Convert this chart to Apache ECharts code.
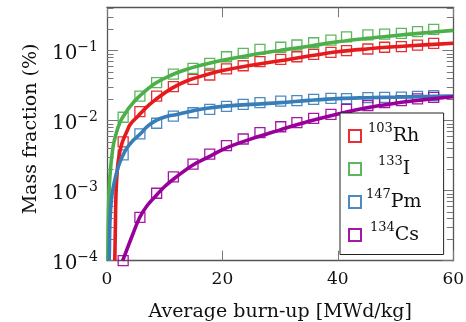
<!DOCTYPE html>
<html>
<head>
<meta charset="utf-8">
<script src="https://cdn.jsdelivr.net/npm/echarts@6/dist/echarts.min.js"></script>
<style>html,body{margin:0;padding:0;background:#fff}#c{width:466px;height:322px}</style>
</head>
<body>
<div id="c"></div>
<script>
// ---- data ----
const markerX = [2.8, 5.7, 8.6, 11.5, 14.9, 17.8, 20.7, 23.6, 26.5, 30.1, 32.9, 35.8, 38.8, 41.5, 45.2, 48.1, 51.0, 53.8, 56.6];
const rhMarkers = [0.0050, 0.0135, 0.0225, 0.0306, 0.039, 0.045, 0.055, 0.061, 0.0697, 0.0754, 0.082, 0.0889, 0.0949, 0.100, 0.1057, 0.112, 0.114, 0.120, 0.1276];
const iMarkers  = [0.0112, 0.0225, 0.0349, 0.0464, 0.0561, 0.066, 0.082, 0.0918, 0.1047, 0.112, 0.1206, 0.130, 0.142, 0.158, 0.168, 0.173, 0.177, 0.187, 0.202];
const pmMarkers = [0.00324, 0.0065, 0.0092, 0.0116, 0.013, 0.01455, 0.016, 0.01716, 0.0181, 0.0191, 0.0193, 0.0202, 0.0209, 0.0207, 0.0213, 0.0215, 0.0217, 0.0223, 0.0228];
const csMarkers = [0.0001, 0.000417, 0.00092, 0.00158, 0.0024, 0.00334, 0.0044, 0.00548, 0.00674, 0.0082, 0.00936, 0.0108, 0.01234, 0.0145, 0.0165, 0.0182, 0.0193, 0.0205, 0.0215];

const rhLineX = [1.35, 1.45, 1.56, 1.75, 1.96, 2.4, 2.8, 3.5, 4.0, 5.4, 7, 8.3, 11.2, 14.1, 17, 20, 25, 30, 35, 40, 45, 50, 55, 60];
const rhLine  = [0.0001, 0.0003, 0.0009, 0.0018, 0.0027, 0.0042, 0.0053, 0.0072, 0.0088, 0.0117, 0.016, 0.0197, 0.029, 0.0378, 0.0448, 0.052, 0.062, 0.072, 0.084, 0.0965, 0.106, 0.114, 0.121, 0.128];
const iLineX  = [0.15, 0.25, 0.5, 1.0, 1.5, 2.25, 3.1, 4, 5.4, 8.3, 11.2, 14.1, 17, 20, 25, 30, 35, 40, 45, 50, 55, 60];
const iLine   = [0.0001, 0.0005, 0.0016, 0.0040, 0.0062, 0.0095, 0.0125, 0.016, 0.0215, 0.034, 0.045, 0.055, 0.064, 0.073, 0.087, 0.101, 0.116, 0.134, 0.150, 0.165, 0.180, 0.195];
const pmLineX = [0.35, 0.4, 0.52, 0.8, 1.1, 1.5, 1.96, 2.6, 3.4, 4.5, 5.7, 7, 8.6, 10, 12.1, 14.1, 17, 20, 25, 30, 35, 40, 45, 50, 55, 60];
const pmLine  = [0.0001, 0.000115, 0.00038, 0.0008, 0.00114, 0.0016, 0.0022, 0.003, 0.004, 0.0052, 0.0064, 0.0083, 0.0102, 0.0113, 0.0123, 0.0134, 0.0149, 0.016, 0.0171, 0.0181, 0.0195, 0.0207, 0.0213, 0.0217, 0.0221, 0.0225];
const csLineX = [2.7, 3.0, 4.3, 5.7, 7, 8.6, 10, 11.5, 14.9, 17.8, 20.4, 25, 30, 35, 40, 45, 50, 55, 60];
const csLine  = [0.0001, 0.000115, 0.00022, 0.00042, 0.00062, 0.00087, 0.00115, 0.00146, 0.00233, 0.0031, 0.0040, 0.0055, 0.0074, 0.0098, 0.0125, 0.0153, 0.0178, 0.0200, 0.022];

const seriesNames = ['103Rh', '133I', '147Pm', '134Cs'];
const xTicks = [0, 20, 40, 60];
const yMajorTicks = [1e-4, 1e-3, 1e-2, 1e-1];
const yMinorTicks = [2e-4,3e-4,4e-4,5e-4,6e-4,7e-4,8e-4,9e-4,2e-3,3e-3,4e-3,5e-3,6e-3,7e-3,8e-3,9e-3,2e-2,3e-2,4e-2,5e-2,6e-2,7e-2,8e-2,9e-2,0.2,0.3,0.4];
const yMin = 1e-4, yMax = 0.417;

// ---- styling ----
const colors = ['#e41a1c', '#4daf4a', '#377eb8', '#99009a'];
const FONT = 'DejaVu Serif';
const axisCol = '#555';
const tickCol = '#777';

const pair = (xs, ys) => xs.map((x, i) => [x, ys[i]]);
const markerSets = [rhMarkers, iMarkers, pmMarkers, csMarkers];
const lineSets = [[rhLineX, rhLine], [iLineX, iLine], [pmLineX, pmLine], [csLineX, csLine]];

const series = [];
seriesNames.forEach((n, k) => {
  series.push({
    name: n, type: 'scatter', symbol: 'rect', symbolSize: 10,
    data: pair(markerX, markerSets[k]),
    itemStyle: { color: 'rgba(255,255,255,0)', borderColor: colors[k], borderWidth: 1.3, opacity: 0.9 },
    z: 2, silent: true
  });
});
seriesNames.forEach((n, k) => {
  series.push({
    name: n + ' fit', type: 'line', showSymbol: false, smooth: 0.4,
    data: pair(lineSets[k][0], lineSets[k][1]),
    lineStyle: { color: colors[k], width: 3.6 }, itemStyle: { color: colors[k] },
    z: 3, clip: true, silent: true
  });
});

const legendPad = { '103Rh': 2, '133I': 12, '147Pm': 0, '134Cs': 4 };

const yLog = (pos, isMajor, labels) => ({
  type: 'log', logBase: 10, min: yMin, max: yMax, position: pos,
  axisLine: { show: isMajor, lineStyle: { color: axisCol, width: 1.3 } },
  axisTick: { show: true, inside: true, length: isMajor ? 11 : 6.5, customValues: isMajor ? yMajorTicks : yMinorTicks, lineStyle: { color: tickCol, width: 1 } },
  axisLabel: labels ? {
    show: true, customValues: yMajorTicks, margin: 9, padding: [6, 0, 0, 0],
    formatter: v => '{b|10}{s|−' + (-Math.round(Math.log10(v))) + '}',
    rich: {
      b: { fontFamily: FONT, fontSize: 20, lineHeight: 26, color: '#111' },
      s: { fontFamily: FONT, fontSize: 14, lineHeight: 14, verticalAlign: 'top', color: '#111' }
    }
  } : { show: false },
  splitLine: { show: false }, minorTick: { show: false }
});

const legendRich = {
  b: { fontFamily: FONT, fontSize: 19, lineHeight: 28, color: '#111' }
};
Object.values(legendPad).forEach(p => {
  legendRich['s' + p] = { fontFamily: FONT, fontSize: 13, lineHeight: 13, verticalAlign: 'top', color: '#111', padding: [0, 0, 0, p] };
});

const chart = echarts.init(document.getElementById('c'), null, { renderer: 'canvas' });
chart.setOption({
  animation: false,
  backgroundColor: '#fff',
  grid: { left: 107, right: 12.7, top: 7.3, bottom: 61.3, containLabel: false, outerBoundsMode: 'none' },
  legend: {
    data: seriesNames.map(n => ({ name: n, icon: 'rect' })),
    orient: 'vertical', left: 340, top: 113,
    padding: [9, 22, 10, 8], itemGap: 9.5, itemWidth: 12, itemHeight: 12,
    borderColor: '#222', borderWidth: 1, backgroundColor: '#fff',
    formatter: n => {
      const m = n.match(/^(\d+)(.*)$/);
      return '{s' + legendPad[n] + '|' + m[1] + '}{b|' + m[2] + '}';
    },
    textStyle: { rich: legendRich },
    selectedMode: false
  },
  xAxis: [
    {
      type: 'value', min: 0, max: 60, interval: 20, position: 'bottom',
      axisLine: { lineStyle: { color: axisCol, width: 1.3 } },
      axisTick: { inside: true, length: 10, lineStyle: { color: tickCol } },
      axisLabel: { fontFamily: FONT, fontSize: 17, color: '#111', margin: 10, customValues: xTicks },
      splitLine: { show: false },
      name: 'Average burn-up [MWd/kg]', nameLocation: 'middle', nameGap: 42,
      nameTextStyle: { fontFamily: FONT, fontSize: 19, color: '#111' }
    },
    {
      type: 'value', min: 0, max: 60, interval: 20, position: 'top',
      axisLine: { lineStyle: { color: axisCol, width: 1.3 } },
      axisTick: { inside: true, length: 10, lineStyle: { color: tickCol } },
      axisLabel: { show: false }, splitLine: { show: false }
    }
  ],
  yAxis: [
    Object.assign(yLog('left', true, true), {
      name: 'Mass fraction (%)', nameLocation: 'middle', nameGap: 66, nameRotate: 90,
      nameTextStyle: { fontFamily: FONT, fontSize: 19, color: '#111', padding: [0, 0, 0, 10] }
    }),
    yLog('left', false, false),
    yLog('right', true, false),
    yLog('right', false, false)
  ],
  series: series
});
</script>
</body>
</html>
